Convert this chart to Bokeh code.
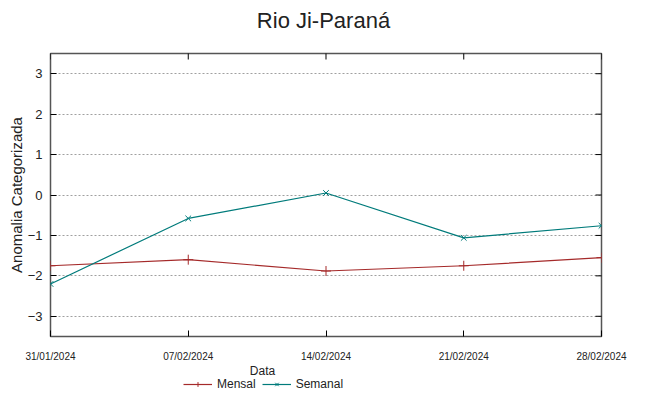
import pandas as pd
from bokeh.plotting import figure
from bokeh.layouts import column
from bokeh.models import FixedTicker, Legend, LegendItem, Range1d, Label
from bokeh.embed import file_html
from bokeh.resources import INLINE

dates = ["2024-01-31", "2024-02-07", "2024-02-14", "2024-02-21", "2024-02-28"]
tick_labels = ["31/01/2024", "07/02/2024", "14/02/2024", "21/02/2024", "28/02/2024"]
mensal = [-1.75, -1.60, -1.88, -1.75, -1.55]
semanal = [-2.20, -0.58, 0.05, -1.06, -0.76]
y_ticks = [-3, -2, -1, 0, 1, 2, 3]
y_min, y_max = -3.5, 3.5
title_text = "Rio Ji-Paraná"

FONT = "Liberation Sans"
RED = "#a52a2a"
TEAL = "#007b7b"
TXT = "#222222"
x = pd.to_datetime(dates)
x_ms = [int(d.value // 10**6) for d in x]


def strip(height):
    f = figure(width=649, height=height, output_backend="svg", toolbar_location=None,
               x_axis_location=None, y_axis_location=None,
               x_range=Range1d(x[0], x[-1]), y_range=Range1d(100, 101),
               min_border_left=0, min_border_right=0, min_border_top=0, min_border_bottom=0,
               outline_line_color=None)
    f.xgrid.visible = False
    f.ygrid.visible = False
    return f


# title strip
t = strip(40)
t.add_layout(Label(x=273, y=20, x_units="screen", y_units="screen", text=title_text,
                   text_align="center", text_baseline="middle",
                   text_font=FONT, text_font_size="22px", text_color=TXT))

p = figure(width=649, height=324, output_backend="svg", toolbar_location=None,
           x_axis_type="datetime",
           x_range=Range1d(x[0], x[-1]), y_range=Range1d(y_min, y_max),
           min_border_left=50, min_border_right=48, min_border_top=13, min_border_bottom=28)

p.outline_line_color = "#555555"
p.outline_line_width = 1.5
p.background_fill_color = "white"
p.border_fill_color = "white"

p.xgrid.visible = False
p.ygrid.ticker = FixedTicker(ticks=y_ticks)
p.ygrid.grid_line_color = "#a0a0a0"
p.ygrid.grid_line_dash = "2 2"

xa = p.xaxis[0]
xa.ticker = FixedTicker(ticks=x_ms)
xa.major_label_overrides = {t_: lab for t_, lab in zip(x_ms, tick_labels)}
xa.major_label_text_font = FONT
xa.major_label_text_font_size = "10px"
xa.major_label_standoff = 14

ya = p.yaxis[0]
ya.ticker = FixedTicker(ticks=y_ticks)
ya.axis_label = "Anomalia Categorizada"
ya.axis_label_text_font = FONT
ya.axis_label_text_font_size = "15px"
ya.axis_label_text_font_style = "normal"
ya.axis_label_standoff = 0
ya.major_label_text_font = FONT
ya.major_label_text_font_size = "13px"
ya.major_label_standoff = 8

for ax in (xa, ya):
    ax.axis_line_color = None
    ax.major_tick_in = 6
    ax.major_tick_out = 0
    ax.minor_tick_line_color = None
    ax.major_tick_line_color = "black"
    ax.major_label_text_color = TXT
    ax.axis_label_text_color = TXT

# mirrored tick marks on the top and right edges of the frame
p.scatter(x, [y_max] * len(x_ms), marker="dash", angle=1.5708, size=12,
          line_color="black", line_width=1)
p.scatter([x[-1]] * len(y_ticks), y_ticks, marker="dash", size=12,
          line_color="black", line_width=1)

p.line(x, mensal, line_color=RED, line_width=1.2)
p.scatter(x, mensal, marker="cross", size=10, line_color=RED, line_width=1)
p.line(x, semanal, line_color=TEAL, line_width=1.2)
p.scatter(x, semanal, marker="x", size=8, line_color=TEAL, line_width=1)

# strip below the chart: x-axis title and legend
q = strip(32)
k1 = q.line(x, mensal, line_color=RED, line_width=1.2)
k1m = q.scatter(x, mensal, marker="cross", size=10, line_color=RED, line_width=1)
k2 = q.line(x, semanal, line_color=TEAL, line_width=1.2)
k2m = q.scatter(x, semanal, marker="x", size=8, line_color=TEAL, line_width=1)

q.add_layout(Label(x=212, y=26, x_units="screen", y_units="screen", text="Data",
                   text_align="center", text_baseline="middle",
                   text_font=FONT, text_font_size="12px", text_color=TXT))

legend = Legend(items=[LegendItem(label="Mensal", renderers=[k1, k1m]),
                       LegendItem(label="Semanal", renderers=[k2, k2m])],
                orientation="horizontal", location=(133, 5),
                label_text_font=FONT, label_text_font_size="12px",
                label_text_color=TXT,
                glyph_width=29, glyph_height=12, label_standoff=5, spacing=6,
                padding=0, margin=0, background_fill_alpha=0, border_line_alpha=0)
q.add_layout(legend, "center")

layout = column(t, p, q, spacing=0)
open("out.html", "w").write(file_html(layout, INLINE))
